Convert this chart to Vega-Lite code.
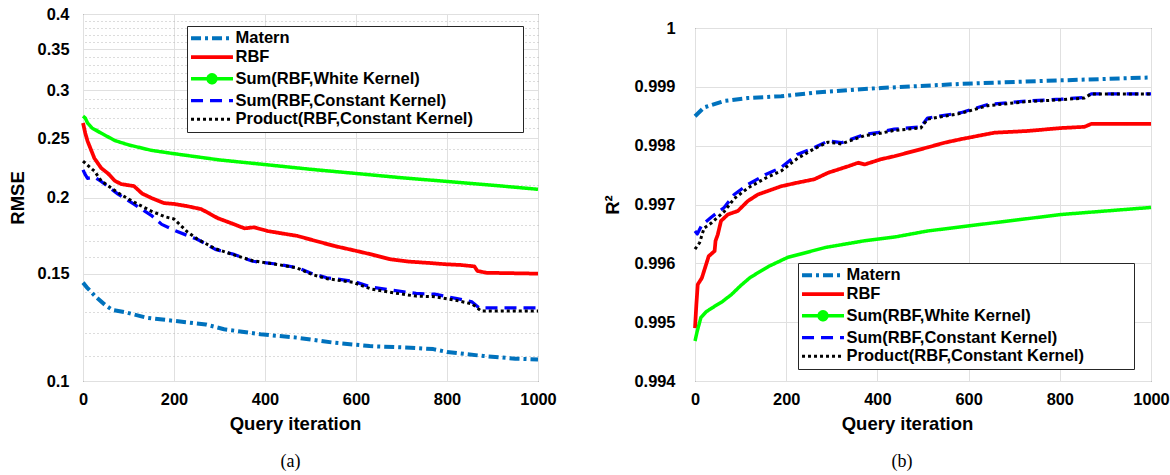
{
  "$schema": "https://vega.github.io/schema/vega-lite/v6.json",
  "background": "white",
  "padding": {"left": 7, "top": 5, "right": 5, "bottom": 5},
  "config": {
    "view": {"stroke": "#262626", "strokeWidth": 1},
    "axis": {"labelFont": "Liberation Sans", "labelFontSize": 16.4, "labelFontWeight": "bold", "labelColor": "#000000", "titleFont": "Liberation Sans", "titleFontSize": 18.5, "titleFontWeight": "bold", "titleColor": "#000000", "domain": false, "ticks": false, "gridColor": "#e0e0e0", "gridWidth": 1, "labelFlush": false, "labelOverlap": false},
    "legend": {"labelFont": "Liberation Sans", "labelFontSize": 16.5, "labelFontWeight": "bold", "labelColor": "#000000", "titleOrient": "right", "titleColor": "#ffffff", "titleFontSize": 10, "titlePadding": 43},
    "title": {"font": "Liberation Serif", "fontSize": 18, "fontWeight": "normal", "color": "#000000"}
  },
  "datasets": {
    "rmse": [
      {"s":"Matern","x":0,"y":0.145},{"s":"Matern","x":10,"y":0.142},{"s":"Matern","x":30,"y":0.137},{"s":"Matern","x":50,"y":0.133},{"s":"Matern","x":65,"y":0.1308},{"s":"Matern","x":90,"y":0.1298},{"s":"Matern","x":140,"y":0.127},{"s":"Matern","x":200,"y":0.1255},{"s":"Matern","x":270,"y":0.1238},{"s":"Matern","x":310,"y":0.1216},{"s":"Matern","x":390,"y":0.1193},{"s":"Matern","x":470,"y":0.1178},{"s":"Matern","x":550,"y":0.1156},{"s":"Matern","x":630,"y":0.1141},{"s":"Matern","x":720,"y":0.1134},{"s":"Matern","x":770,"y":0.1128},{"s":"Matern","x":800,"y":0.1116},{"s":"Matern","x":880,"y":0.1099},{"s":"Matern","x":950,"y":0.1088},{"s":"Matern","x":1000,"y":0.1085},
      {"s":"RBF","x":0,"y":0.265},{"s":"RBF","x":5,"y":0.255},{"s":"RBF","x":10,"y":0.2475},{"s":"RBF","x":25,"y":0.232},{"s":"RBF","x":40,"y":0.2235},{"s":"RBF","x":55,"y":0.219},{"s":"RBF","x":70,"y":0.213},{"s":"RBF","x":84,"y":0.2104},{"s":"RBF","x":112,"y":0.2088},{"s":"RBF","x":130,"y":0.203},{"s":"RBF","x":150,"y":0.1997},{"s":"RBF","x":178,"y":0.1958},{"s":"RBF","x":200,"y":0.1952},{"s":"RBF","x":230,"y":0.1935},{"s":"RBF","x":260,"y":0.1914},{"s":"RBF","x":296,"y":0.185},{"s":"RBF","x":330,"y":0.181},{"s":"RBF","x":355,"y":0.178},{"s":"RBF","x":376,"y":0.1787},{"s":"RBF","x":406,"y":0.1762},{"s":"RBF","x":440,"y":0.1745},{"s":"RBF","x":471,"y":0.173},{"s":"RBF","x":508,"y":0.17},{"s":"RBF","x":553,"y":0.1665},{"s":"RBF","x":600,"y":0.1635},{"s":"RBF","x":634,"y":0.1613},{"s":"RBF","x":675,"y":0.1584},{"s":"RBF","x":716,"y":0.157},{"s":"RBF","x":760,"y":0.1562},{"s":"RBF","x":798,"y":0.1554},{"s":"RBF","x":830,"y":0.155},{"s":"RBF","x":860,"y":0.1542},{"s":"RBF","x":867,"y":0.1515},{"s":"RBF","x":887,"y":0.1505},{"s":"RBF","x":1000,"y":0.15},
      {"s":"Sum(RBF,White Kernel)","x":0,"y":0.272},{"s":"Sum(RBF,White Kernel)","x":5,"y":0.27},{"s":"Sum(RBF,White Kernel)","x":10,"y":0.265},{"s":"Sum(RBF,White Kernel)","x":20,"y":0.26},{"s":"Sum(RBF,White Kernel)","x":40,"y":0.255},{"s":"Sum(RBF,White Kernel)","x":70,"y":0.248},{"s":"Sum(RBF,White Kernel)","x":100,"y":0.244},{"s":"Sum(RBF,White Kernel)","x":150,"y":0.239},{"s":"Sum(RBF,White Kernel)","x":200,"y":0.236},{"s":"Sum(RBF,White Kernel)","x":300,"y":0.2305},{"s":"Sum(RBF,White Kernel)","x":400,"y":0.2265},{"s":"Sum(RBF,White Kernel)","x":500,"y":0.2225},{"s":"Sum(RBF,White Kernel)","x":600,"y":0.219},{"s":"Sum(RBF,White Kernel)","x":700,"y":0.2155},{"s":"Sum(RBF,White Kernel)","x":800,"y":0.2125},{"s":"Sum(RBF,White Kernel)","x":900,"y":0.2095},{"s":"Sum(RBF,White Kernel)","x":1000,"y":0.2063},
      {"s":"Sum(RBF,Constant Kernel)","x":0,"y":0.222},{"s":"Sum(RBF,Constant Kernel)","x":5,"y":0.218},{"s":"Sum(RBF,Constant Kernel)","x":10,"y":0.215},{"s":"Sum(RBF,Constant Kernel)","x":25,"y":0.216},{"s":"Sum(RBF,Constant Kernel)","x":40,"y":0.2125},{"s":"Sum(RBF,Constant Kernel)","x":77,"y":0.2026},{"s":"Sum(RBF,Constant Kernel)","x":112,"y":0.195},{"s":"Sum(RBF,Constant Kernel)","x":150,"y":0.187},{"s":"Sum(RBF,Constant Kernel)","x":173,"y":0.1807},{"s":"Sum(RBF,Constant Kernel)","x":202,"y":0.1765},{"s":"Sum(RBF,Constant Kernel)","x":251,"y":0.1708},{"s":"Sum(RBF,Constant Kernel)","x":291,"y":0.1644},{"s":"Sum(RBF,Constant Kernel)","x":332,"y":0.1613},{"s":"Sum(RBF,Constant Kernel)","x":373,"y":0.1572},{"s":"Sum(RBF,Constant Kernel)","x":430,"y":0.1554},{"s":"Sum(RBF,Constant Kernel)","x":471,"y":0.1534},{"s":"Sum(RBF,Constant Kernel)","x":504,"y":0.15},{"s":"Sum(RBF,Constant Kernel)","x":536,"y":0.1477},{"s":"Sum(RBF,Constant Kernel)","x":593,"y":0.1458},{"s":"Sum(RBF,Constant Kernel)","x":634,"y":0.1425},{"s":"Sum(RBF,Constant Kernel)","x":683,"y":0.1408},{"s":"Sum(RBF,Constant Kernel)","x":732,"y":0.1392},{"s":"Sum(RBF,Constant Kernel)","x":773,"y":0.1388},{"s":"Sum(RBF,Constant Kernel)","x":822,"y":0.1365},{"s":"Sum(RBF,Constant Kernel)","x":855,"y":0.1348},{"s":"Sum(RBF,Constant Kernel)","x":871,"y":0.1318},{"s":"Sum(RBF,Constant Kernel)","x":1000,"y":0.1318},
      {"s":"Product(RBF,Constant Kernel)","x":0,"y":0.2295},{"s":"Product(RBF,Constant Kernel)","x":10,"y":0.226},{"s":"Product(RBF,Constant Kernel)","x":25,"y":0.221},{"s":"Product(RBF,Constant Kernel)","x":40,"y":0.213},{"s":"Product(RBF,Constant Kernel)","x":77,"y":0.2035},{"s":"Product(RBF,Constant Kernel)","x":112,"y":0.1965},{"s":"Product(RBF,Constant Kernel)","x":150,"y":0.19},{"s":"Product(RBF,Constant Kernel)","x":180,"y":0.186},{"s":"Product(RBF,Constant Kernel)","x":200,"y":0.1844},{"s":"Product(RBF,Constant Kernel)","x":230,"y":0.1755},{"s":"Product(RBF,Constant Kernel)","x":251,"y":0.171},{"s":"Product(RBF,Constant Kernel)","x":291,"y":0.1648},{"s":"Product(RBF,Constant Kernel)","x":332,"y":0.161},{"s":"Product(RBF,Constant Kernel)","x":373,"y":0.1575},{"s":"Product(RBF,Constant Kernel)","x":430,"y":0.1552},{"s":"Product(RBF,Constant Kernel)","x":471,"y":0.1532},{"s":"Product(RBF,Constant Kernel)","x":504,"y":0.1495},{"s":"Product(RBF,Constant Kernel)","x":536,"y":0.1472},{"s":"Product(RBF,Constant Kernel)","x":593,"y":0.1452},{"s":"Product(RBF,Constant Kernel)","x":634,"y":0.1415},{"s":"Product(RBF,Constant Kernel)","x":683,"y":0.1395},{"s":"Product(RBF,Constant Kernel)","x":732,"y":0.1378},{"s":"Product(RBF,Constant Kernel)","x":773,"y":0.1375},{"s":"Product(RBF,Constant Kernel)","x":822,"y":0.1355},{"s":"Product(RBF,Constant Kernel)","x":855,"y":0.1338},{"s":"Product(RBF,Constant Kernel)","x":875,"y":0.1303},{"s":"Product(RBF,Constant Kernel)","x":1000,"y":0.1303}
    ],
    "r2": [
      {"s":"Matern","x":0,"y":0.9985},{"s":"Matern","x":20,"y":0.99865},{"s":"Matern","x":64,"y":0.99876},{"s":"Matern","x":116,"y":0.99881},{"s":"Matern","x":189,"y":0.99884},{"s":"Matern","x":262,"y":0.9989},{"s":"Matern","x":364,"y":0.99896},{"s":"Matern","x":408,"y":0.99898},{"s":"Matern","x":583,"y":0.99905},{"s":"Matern","x":803,"y":0.99911},{"s":"Matern","x":1000,"y":0.99916},
      {"s":"RBF","x":0,"y":0.9949},{"s":"RBF","x":3,"y":0.9953},{"s":"RBF","x":6,"y":0.99564},{"s":"RBF","x":15,"y":0.99575},{"s":"RBF","x":30,"y":0.99612},{"s":"RBF","x":43,"y":0.99621},{"s":"RBF","x":45,"y":0.99638},{"s":"RBF","x":50,"y":0.99649},{"s":"RBF","x":57,"y":0.99672},{"s":"RBF","x":72,"y":0.99683},{"s":"RBF","x":94,"y":0.99689},{"s":"RBF","x":116,"y":0.99706},{"s":"RBF","x":138,"y":0.99717},{"s":"RBF","x":160,"y":0.99723},{"s":"RBF","x":189,"y":0.99731},{"s":"RBF","x":224,"y":0.99737},{"s":"RBF","x":262,"y":0.99743},{"s":"RBF","x":292,"y":0.99754},{"s":"RBF","x":336,"y":0.99765},{"s":"RBF","x":358,"y":0.99771},{"s":"RBF","x":372,"y":0.99768},{"s":"RBF","x":408,"y":0.99777},{"s":"RBF","x":437,"y":0.99782},{"s":"RBF","x":510,"y":0.99797},{"s":"RBF","x":547,"y":0.99805},{"s":"RBF","x":583,"y":0.99811},{"s":"RBF","x":656,"y":0.99822},{"s":"RBF","x":730,"y":0.99825},{"s":"RBF","x":803,"y":0.9983},{"s":"RBF","x":854,"y":0.99832},{"s":"RBF","x":869,"y":0.99837},{"s":"RBF","x":1000,"y":0.99837},
      {"s":"Sum(RBF,White Kernel)","x":0,"y":0.99468},{"s":"Sum(RBF,White Kernel)","x":5,"y":0.99485},{"s":"Sum(RBF,White Kernel)","x":13,"y":0.99508},{"s":"Sum(RBF,White Kernel)","x":25,"y":0.99518},{"s":"Sum(RBF,White Kernel)","x":39,"y":0.99525},{"s":"Sum(RBF,White Kernel)","x":60,"y":0.99535},{"s":"Sum(RBF,White Kernel)","x":80,"y":0.99547},{"s":"Sum(RBF,White Kernel)","x":100,"y":0.99562},{"s":"Sum(RBF,White Kernel)","x":121,"y":0.99576},{"s":"Sum(RBF,White Kernel)","x":162,"y":0.99595},{"s":"Sum(RBF,White Kernel)","x":203,"y":0.9961},{"s":"Sum(RBF,White Kernel)","x":286,"y":0.99627},{"s":"Sum(RBF,White Kernel)","x":369,"y":0.99638},{"s":"Sum(RBF,White Kernel)","x":440,"y":0.99645},{"s":"Sum(RBF,White Kernel)","x":510,"y":0.99655},{"s":"Sum(RBF,White Kernel)","x":656,"y":0.99669},{"s":"Sum(RBF,White Kernel)","x":803,"y":0.99683},{"s":"Sum(RBF,White Kernel)","x":1000,"y":0.99695},
      {"s":"Sum(RBF,Constant Kernel)","x":0,"y":0.99655},{"s":"Sum(RBF,Constant Kernel)","x":5,"y":0.9965},{"s":"Sum(RBF,Constant Kernel)","x":15,"y":0.99665},{"s":"Sum(RBF,Constant Kernel)","x":35,"y":0.99678},{"s":"Sum(RBF,Constant Kernel)","x":64,"y":0.99695},{"s":"Sum(RBF,Constant Kernel)","x":86,"y":0.99717},{"s":"Sum(RBF,Constant Kernel)","x":116,"y":0.99734},{"s":"Sum(RBF,Constant Kernel)","x":155,"y":0.99751},{"s":"Sum(RBF,Constant Kernel)","x":189,"y":0.99763},{"s":"Sum(RBF,Constant Kernel)","x":224,"y":0.99785},{"s":"Sum(RBF,Constant Kernel)","x":262,"y":0.99797},{"s":"Sum(RBF,Constant Kernel)","x":292,"y":0.99808},{"s":"Sum(RBF,Constant Kernel)","x":321,"y":0.99805},{"s":"Sum(RBF,Constant Kernel)","x":372,"y":0.99819},{"s":"Sum(RBF,Constant Kernel)","x":400,"y":0.99822},{"s":"Sum(RBF,Constant Kernel)","x":437,"y":0.99828},{"s":"Sum(RBF,Constant Kernel)","x":495,"y":0.99832},{"s":"Sum(RBF,Constant Kernel)","x":510,"y":0.99847},{"s":"Sum(RBF,Constant Kernel)","x":583,"y":0.99856},{"s":"Sum(RBF,Constant Kernel)","x":642,"y":0.9987},{"s":"Sum(RBF,Constant Kernel)","x":730,"y":0.99876},{"s":"Sum(RBF,Constant Kernel)","x":803,"y":0.99879},{"s":"Sum(RBF,Constant Kernel)","x":854,"y":0.99882},{"s":"Sum(RBF,Constant Kernel)","x":869,"y":0.99888},{"s":"Sum(RBF,Constant Kernel)","x":1000,"y":0.99888},
      {"s":"Product(RBF,Constant Kernel)","x":0,"y":0.99624},{"s":"Product(RBF,Constant Kernel)","x":10,"y":0.99635},{"s":"Product(RBF,Constant Kernel)","x":20,"y":0.9966},{"s":"Product(RBF,Constant Kernel)","x":35,"y":0.99668},{"s":"Product(RBF,Constant Kernel)","x":64,"y":0.99688},{"s":"Product(RBF,Constant Kernel)","x":86,"y":0.9971},{"s":"Product(RBF,Constant Kernel)","x":116,"y":0.99728},{"s":"Product(RBF,Constant Kernel)","x":155,"y":0.99745},{"s":"Product(RBF,Constant Kernel)","x":189,"y":0.99757},{"s":"Product(RBF,Constant Kernel)","x":224,"y":0.99778},{"s":"Product(RBF,Constant Kernel)","x":262,"y":0.99795},{"s":"Product(RBF,Constant Kernel)","x":292,"y":0.99806},{"s":"Product(RBF,Constant Kernel)","x":321,"y":0.99803},{"s":"Product(RBF,Constant Kernel)","x":372,"y":0.99817},{"s":"Product(RBF,Constant Kernel)","x":400,"y":0.9982},{"s":"Product(RBF,Constant Kernel)","x":437,"y":0.99826},{"s":"Product(RBF,Constant Kernel)","x":495,"y":0.9983},{"s":"Product(RBF,Constant Kernel)","x":510,"y":0.99845},{"s":"Product(RBF,Constant Kernel)","x":583,"y":0.99855},{"s":"Product(RBF,Constant Kernel)","x":642,"y":0.99868},{"s":"Product(RBF,Constant Kernel)","x":730,"y":0.99875},{"s":"Product(RBF,Constant Kernel)","x":803,"y":0.99878},{"s":"Product(RBF,Constant Kernel)","x":854,"y":0.99881},{"s":"Product(RBF,Constant Kernel)","x":869,"y":0.99888},{"s":"Product(RBF,Constant Kernel)","x":1000,"y":0.99888}
    ]
  },
  "spacing": 46,
  "resolve": {"scale": {"color": "independent", "strokeDash": "independent", "strokeWidth": "independent"}, "legend": {"color": "independent", "strokeDash": "independent"}},
  "hconcat": [
    {
      "width": 455,
      "height": 367,
      "title": {"text": "(a)", "orient": "bottom", "offset": 20, "dx": -20, "fontSize": 18, "font": "Liberation Serif", "fontWeight": "normal"},
      "data": {"name": "rmse"},
      "resolve": {"axis": {"y": "independent"}},
      "layer": [
        {
          "mark": {"type": "line", "strokeJoin": "round"},
          "encoding": {
            "x": {"field": "x", "type": "quantitative", "scale": {"domain": [0, 1000], "nice": false}, "axis": {"values": [0, 200, 400, 600, 800, 1000], "format": "d", "title": "Query iteration", "titleX": 212, "labelPadding": 10, "titlePadding": 7, "grid": true}},
            "y": {"field": "y", "type": "quantitative", "scale": {"type": "log", "domain": [0.1, 0.4], "nice": false, "zero": false}, "axis": {"orient": "left", "values": [0.1, 0.15, 0.2, 0.25, 0.3, 0.35, 0.4], "format": "~g", "title": "RMSE", "labelPadding": 14, "titlePadding": 10, "grid": true}},
            "color": {"field": "s", "type": "nominal", "scale": {"domain": ["Matern", "RBF", "Sum(RBF,White Kernel)", "Sum(RBF,Constant Kernel)", "Product(RBF,Constant Kernel)"], "range": ["#0072BD", "#FF0000", "#00FF00", "#0000FF", "#000000"]},
              "legend": {"title": ".", "orient": "none", "legendX": 104, "legendY": 12, "symbolType": "M-1.57,0H6.43", "symbolSize": 110, "symbolStrokeWidth": 3.5, "labelOffset": 28, "labelLimit": 500, "padding": 4, "rowPadding": 1.75, "fillColor": "white", "strokeColor": "#262626",
                "encode": {"symbols": {"update": {"shape": {"signal": "datum.value === 'Sum(RBF,White Kernel)' ? 'M-1.57,0H6.43M3.18,0A0.75,0.75,0,1,1,1.68,0A0.75,0.75,0,1,1,3.18,0' : 'M-1.57,0H6.43'"}, "fill": {"signal": "datum.value === 'Sum(RBF,White Kernel)' ? '#00FF00' : 'transparent'"}}}}}},
            "strokeDash": {"field": "s", "type": "nominal", "scale": {"domain": ["Matern", "RBF", "Sum(RBF,White Kernel)", "Sum(RBF,Constant Kernel)", "Product(RBF,Constant Kernel)"], "range": [[10, 4, 3, 4], [1, 0], [1, 0], [12, 7], [3, 3]]},
              "legend": {"title": ".", "orient": "none", "legendX": 104, "legendY": 12, "symbolType": "M-1.57,0H6.43", "symbolSize": 110, "symbolStrokeWidth": 3.5, "labelOffset": 28, "labelLimit": 500, "padding": 4, "rowPadding": 1.75, "fillColor": "white", "strokeColor": "#262626",
                "encode": {"symbols": {"update": {"shape": {"signal": "datum.value === 'Sum(RBF,White Kernel)' ? 'M-1.57,0H6.43M3.18,0A0.75,0.75,0,1,1,1.68,0A0.75,0.75,0,1,1,3.18,0' : 'M-1.57,0H6.43'"}, "fill": {"signal": "datum.value === 'Sum(RBF,White Kernel)' ? '#00FF00' : 'transparent'"}}}}}},
            "strokeWidth": {"field": "s", "type": "nominal", "scale": {"domain": ["Matern", "RBF", "Sum(RBF,White Kernel)", "Sum(RBF,Constant Kernel)", "Product(RBF,Constant Kernel)"], "range": [4, 3, 9, 4, 3.5]}, "legend": null}
          }
        },
        {
          "mark": {"type": "line", "opacity": 0},
          "encoding": {
            "x": {"field": "x", "type": "quantitative"},
            "y": {"field": "y", "type": "quantitative", "axis": {"orient": "right", "values": [0.11, 0.12, 0.13, 0.14, 0.16, 0.17, 0.18, 0.19, 0.21, 0.22, 0.23, 0.24, 0.26, 0.27, 0.28, 0.29, 0.31, 0.32, 0.33, 0.34, 0.36, 0.37, 0.38, 0.39], "grid": true, "gridDash": [1, 3], "gridColor": "#b8b8b8", "labels": false, "title": null}}
          }
        }
      ]
    },
    {
      "bounds": "flush",
      "spacing": 13,
      "resolve": {"scale": {"color": "independent", "strokeDash": "independent", "strokeWidth": "independent"}, "legend": {"color": "independent", "strokeDash": "independent"}},
      "vconcat": [
        {
          "width": 456,
          "height": 1,
          "view": {"stroke": null},
          "data": {"values": []},
          "mark": "point",
          "encoding": {}
        },
        {
          "width": 456,
          "height": 353,
          "title": {"text": "(b)", "orient": "bottom", "offset": 20, "dx": -21, "fontSize": 18, "font": "Liberation Serif", "fontWeight": "normal"},
          "data": {"name": "r2"},
          "mark": {"type": "line", "strokeJoin": "round"},
          "encoding": {
            "x": {"field": "x", "type": "quantitative", "scale": {"domain": [0, 1000], "nice": false}, "axis": {"values": [0, 200, 400, 600, 800, 1000], "format": "d", "title": "Query iteration", "titleX": 212, "labelPadding": 10, "titlePadding": 7, "grid": true}},
            "y": {"field": "y", "type": "quantitative", "scale": {"domain": [0.994, 1], "nice": false, "zero": false}, "axis": {"values": [0.994, 0.995, 0.996, 0.997, 0.998, 0.999, 1], "format": "~g", "title": "R²", "labelPadding": 20, "titlePadding": 11, "grid": true}},
            "color": {"field": "s", "type": "nominal", "scale": {"domain": ["Matern", "RBF", "Sum(RBF,White Kernel)", "Sum(RBF,Constant Kernel)", "Product(RBF,Constant Kernel)"], "range": ["#0072BD", "#FF0000", "#00FF00", "#0000FF", "#000000"]},
              "legend": {"title": ".", "orient": "none", "legendX": 103, "legendY": 235, "symbolType": "M-1.57,0H6.43", "symbolSize": 110, "symbolStrokeWidth": 3.5, "labelOffset": 28, "labelLimit": 500, "padding": 4, "rowPadding": 1.75, "fillColor": "white", "strokeColor": "#262626",
                "encode": {"symbols": {"update": {"shape": {"signal": "datum.value === 'Sum(RBF,White Kernel)' ? 'M-1.57,0H6.43M3.18,0A0.75,0.75,0,1,1,1.68,0A0.75,0.75,0,1,1,3.18,0' : 'M-1.57,0H6.43'"}, "fill": {"signal": "datum.value === 'Sum(RBF,White Kernel)' ? '#00FF00' : 'transparent'"}}}}}},
            "strokeDash": {"field": "s", "type": "nominal", "scale": {"domain": ["Matern", "RBF", "Sum(RBF,White Kernel)", "Sum(RBF,Constant Kernel)", "Product(RBF,Constant Kernel)"], "range": [[10, 4, 3, 4], [1, 0], [1, 0], [12, 7], [3, 3]]},
              "legend": {"title": ".", "orient": "none", "legendX": 103, "legendY": 235, "symbolType": "M-1.57,0H6.43", "symbolSize": 110, "symbolStrokeWidth": 3.5, "labelOffset": 28, "labelLimit": 500, "padding": 4, "rowPadding": 1.75, "fillColor": "white", "strokeColor": "#262626",
                "encode": {"symbols": {"update": {"shape": {"signal": "datum.value === 'Sum(RBF,White Kernel)' ? 'M-1.57,0H6.43M3.18,0A0.75,0.75,0,1,1,1.68,0A0.75,0.75,0,1,1,3.18,0' : 'M-1.57,0H6.43'"}, "fill": {"signal": "datum.value === 'Sum(RBF,White Kernel)' ? '#00FF00' : 'transparent'"}}}}}},
            "strokeWidth": {"field": "s", "type": "nominal", "scale": {"domain": ["Matern", "RBF", "Sum(RBF,White Kernel)", "Sum(RBF,Constant Kernel)", "Product(RBF,Constant Kernel)"], "range": [4, 3, 8, 4, 3.5]}, "legend": null}
          }
        }
      ]
    }
  ]
}
